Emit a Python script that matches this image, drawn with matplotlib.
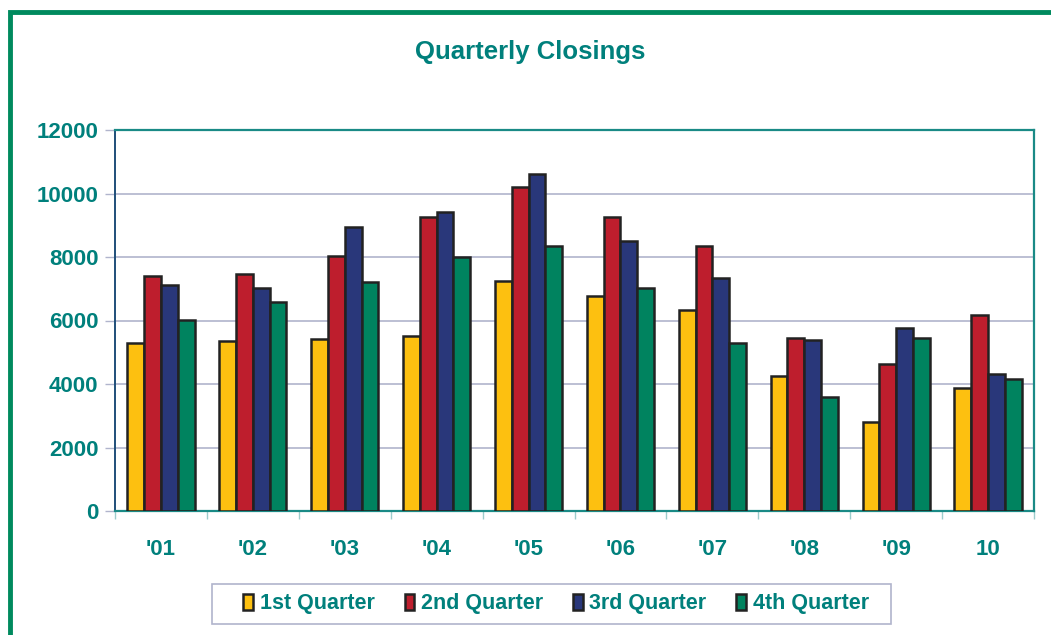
import numpy as np
import matplotlib.pyplot as plt
from matplotlib.patches import Rectangle

# data
years = ["'01", "'02", "'03", "'04", "'05", "'06", "'07", "'08", "'09", "10"]
q1 = [5300, 5360, 5420, 5510, 7250, 6770, 6340, 4260, 2810, 3870]
q2 = [7400, 7460, 8030, 9260, 10210, 9250, 8340, 5440, 4620, 6180]
q3 = [7120, 7030, 8950, 9420, 10620, 8510, 7350, 5400, 5750, 4320]
q4 = [6030, 6580, 7210, 8010, 8360, 7010, 5290, 3580, 5440, 4160]
series_names = ['1st Quarter', '2nd Quarter', '3rd Quarter', '4th Quarter']

colors = ['#FDC010', '#BE1E2D', '#29377A', '#00835F']
teal = '#00807C'

plt.rcParams['font.family'] = ['Liberation Sans', 'DejaVu Sans']

W, H = 1051, 635
fig = plt.figure(figsize=(W/100, H/100), dpi=100)
ax = fig.add_axes([115/W, 1 - 511/H, (1034 - 115)/W, (511 - 130)/H])

# green frame round the whole chart (runs off the right and bottom edge)
fig.patches.append(Rectangle((9.5/W, -0.1), 1.2, 1 - 11.5/H + 0.1,
                             transform=fig.transFigure, fill=False,
                             edgecolor='#008A5E', linewidth=3.5, zorder=0))

x = np.arange(len(years))
width = 0.183
for i, (vals, name) in enumerate(zip([q1, q2, q3, q4], series_names)):
    ax.bar(x + (i - 1.5) * width, vals, width, color=colors[i], edgecolor='#222222',
           linewidth=1.8, label=name, zorder=3)

ax.set_xlim(-0.5, len(years) - 0.5)
ax.set_ylim(0, 12000)
ax.set_yticks(np.arange(0, 12001, 2000))
ax.yaxis.grid(True, color='#B0B4CC', linewidth=1.2, zorder=0)
ax.set_axisbelow(True)

ax.set_xticks(x)
ax.set_xticklabels(years)
ax.set_xticks(np.arange(-0.5, len(years)), minor=True)
ax.tick_params(axis='x', which='major', length=0, pad=20)
ax.tick_params(axis='x', which='minor', length=6, color='#9CCCCC', width=1)
ax.tick_params(axis='y', length=7, color='#B0B4CC', width=1, pad=5)
for lab in ax.get_xticklabels() + ax.get_yticklabels():
    lab.set_color(teal)
    lab.set_fontweight('bold')
    lab.set_fontsize(16)

for side in ['top', 'right', 'bottom']:
    ax.spines[side].set_color('#1A8A86')
    ax.spines[side].set_linewidth(1.6)
ax.spines['left'].set_color('#1F4E79')
ax.spines['left'].set_linewidth(1.4)

fig.text(530/W, 1 - 52/H, 'Quarterly Closings', ha='center', va='center',
         color=teal, fontsize=18.5, fontweight='bold')

# legend box drawn separately so its padding matches the reference
fig.patches.append(Rectangle((212/W, 1 - 624/H), (891 - 212)/W, 40/H,
                             transform=fig.transFigure, fill=False,
                             edgecolor='#B0B4CC', linewidth=1.2))
leg = fig.legend(loc='center', bbox_to_anchor=(556/W, 1 - 604/H), ncol=4,
                 frameon=False, fontsize=15.5, handlelength=0.45,
                 handleheight=0.75, handletextpad=0.3, columnspacing=1.4,
                 borderpad=0.2)
for t in leg.get_texts():
    t.set_color(teal)
    t.set_fontweight('bold')

fig.savefig('out.png', dpi=100)
